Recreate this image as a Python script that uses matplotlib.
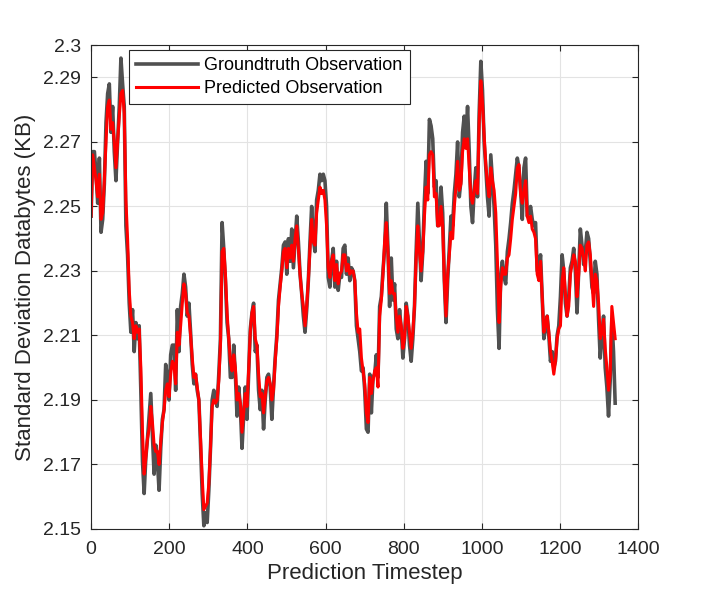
import numpy as np
import matplotlib
matplotlib.use("Agg")
import matplotlib.pyplot as plt

groundtruth = [
    2.247, 2.267, 2.267, 2.260, 2.251, 2.265, 2.242, 2.246, 2.257, 2.276,
    2.285, 2.288, 2.273, 2.281, 2.267, 2.258, 2.270, 2.281, 2.296, 2.288,
    2.281, 2.244, 2.235, 2.220, 2.211, 2.218, 2.205, 2.214, 2.209, 2.213,
    2.193, 2.171, 2.161, 2.172, 2.178, 2.185, 2.192, 2.179, 2.167, 2.176,
    2.171, 2.162, 2.175, 2.184, 2.187, 2.201, 2.197, 2.190, 2.204, 2.207,
    2.207, 2.193, 2.218, 2.205, 2.219, 2.223, 2.229, 2.225, 2.216, 2.220,
    2.211, 2.201, 2.195, 2.198, 2.193, 2.190, 2.176, 2.161, 2.151, 2.155,
    2.152, 2.162, 2.175, 2.190, 2.193, 2.190, 2.188, 2.198, 2.209,
    # 340 - 690
    2.245, 2.237, 2.227, 2.214, 2.209, 2.197, 2.197, 2.207, 2.198, 2.185,
    2.194, 2.188, 2.175, 2.185, 2.194, 2.184, 2.198, 2.212, 2.217, 2.220,
    2.205, 2.207, 2.193, 2.187, 2.193, 2.181, 2.190, 2.197, 2.198, 2.194,
    2.184, 2.194, 2.203, 2.210, 2.221, 2.226, 2.231, 2.238, 2.239, 2.229,
    2.240, 2.233, 2.243, 2.231, 2.239, 2.247, 2.239, 2.229, 2.223, 2.216,
    2.211, 2.218, 2.227, 2.239, 2.250, 2.240, 2.236, 2.252, 2.255, 2.260,
    2.258, 2.260, 2.258, 2.250, 2.228, 2.225, 2.233, 2.237, 2.225, 2.233,
    2.224, 2.229, 2.228, 2.237, 2.238, 2.229, 2.234, 2.227, 2.231, 2.230,
    2.227, 2.213, 2.209,
    # 690 - 1030
    2.205, 2.199, 2.200, 2.193, 2.181, 2.180, 2.198, 2.186, 2.197, 2.198,
    2.204, 2.197, 2.219, 2.222, 2.230, 2.237, 2.251, 2.237, 2.219, 2.234,
    2.221, 2.226, 2.212, 2.209, 2.218, 2.212, 2.203, 2.209, 2.220, 2.216,
    2.207, 2.202, 2.209, 2.219, 2.236, 2.251, 2.239, 2.227, 2.236, 2.252,
    2.264, 2.254, 2.277, 2.275, 2.271, 2.256, 2.258, 2.244, 2.246, 2.256,
    2.248, 2.227, 2.214, 2.227, 2.237, 2.247, 2.244, 2.254, 2.260, 2.270,
    2.253, 2.258, 2.273, 2.278, 2.271, 2.281, 2.267, 2.250, 2.245, 2.255,
    2.262, 2.253, 2.279, 2.295, 2.286, 2.270, 2.262, 2.253, 2.247, 2.266,
    2.258,
    # 1030 - 1341
    2.250, 2.238, 2.218, 2.206, 2.229, 2.233, 2.228, 2.226, 2.236, 2.240,
    2.245, 2.251, 2.255, 2.260, 2.265, 2.262, 2.255, 2.246, 2.262, 2.265,
    2.247, 2.248, 2.250, 2.246, 2.244, 2.245, 2.230, 2.230, 2.235, 2.222,
    2.209, 2.212, 2.216, 2.210, 2.202, 2.205, 2.200, 2.202, 2.210, 2.213,
    2.222, 2.235, 2.230, 2.220, 2.216, 2.222, 2.231, 2.233, 2.237, 2.230,
    2.217, 2.230, 2.243, 2.238, 2.232, 2.236, 2.242, 2.240, 2.233, 2.225,
    2.223, 2.233, 2.229, 2.215, 2.203, 2.210, 2.216, 2.200, 2.194, 2.185,
    2.196, 2.215, 2.205, 2.189,
]

predicted = [
    2.247, 2.266, 2.262, 2.258, 2.253, 2.260, 2.246, 2.248, 2.258, 2.270,
    2.281, 2.283, 2.274, 2.276, 2.270, 2.262, 2.270, 2.278, 2.285, 2.286,
    2.279, 2.252, 2.240, 2.224, 2.216, 2.214, 2.209, 2.213, 2.211, 2.212,
    2.200, 2.180, 2.167, 2.172, 2.178, 2.181, 2.188, 2.183, 2.176, 2.174,
    2.174, 2.170, 2.177, 2.183, 2.187, 2.193, 2.195, 2.191, 2.198, 2.202,
    2.201, 2.195, 2.211, 2.207, 2.213, 2.220, 2.226, 2.223, 2.217, 2.216,
    2.210, 2.203, 2.197, 2.198, 2.194, 2.190, 2.178, 2.166, 2.156, 2.157,
    2.158, 2.164, 2.175, 2.188, 2.190, 2.189, 2.190, 2.196, 2.207,
    # 340 - 690
    2.236, 2.237, 2.229, 2.217, 2.209, 2.202, 2.199, 2.204, 2.200, 2.190,
    2.192, 2.189, 2.180, 2.186, 2.192, 2.188, 2.199, 2.211, 2.217, 2.219,
    2.209, 2.207, 2.198, 2.191, 2.192, 2.186, 2.191, 2.196, 2.197, 2.195,
    2.190, 2.193, 2.202, 2.209, 2.219, 2.225, 2.230, 2.236, 2.237, 2.231,
    2.237, 2.234, 2.238, 2.233, 2.240, 2.244, 2.237, 2.229, 2.223, 2.219,
    2.213, 2.219, 2.227, 2.237, 2.246, 2.239, 2.238, 2.248, 2.252, 2.256,
    2.254, 2.255, 2.252, 2.244, 2.231, 2.228, 2.233, 2.235, 2.227, 2.232,
    2.226, 2.229, 2.230, 2.235, 2.235, 2.230, 2.232, 2.229, 2.230, 2.230,
    2.227, 2.217, 2.211,
    # 690 - 1030
    2.212, 2.203, 2.199, 2.195, 2.186, 2.183, 2.197, 2.192, 2.196, 2.199,
    2.200, 2.194, 2.216, 2.221, 2.229, 2.239, 2.245, 2.236, 2.223, 2.227,
    2.223, 2.223, 2.216, 2.211, 2.216, 2.213, 2.206, 2.209, 2.219, 2.216,
    2.211, 2.206, 2.211, 2.219, 2.234, 2.244, 2.236, 2.230, 2.236, 2.247,
    2.256, 2.252, 2.266, 2.267, 2.266, 2.253, 2.254, 2.244, 2.244, 2.250,
    2.244, 2.227, 2.216, 2.229, 2.235, 2.242, 2.240, 2.250, 2.256, 2.264,
    2.255, 2.257, 2.267, 2.271, 2.268, 2.271, 2.262, 2.253, 2.251, 2.255,
    2.258, 2.254, 2.276, 2.289, 2.282, 2.272, 2.263, 2.257, 2.253, 2.262,
    2.258,
    # 1030 - 1341
    2.255, 2.248, 2.233, 2.214, 2.225, 2.231, 2.229, 2.229, 2.234, 2.235,
    2.240, 2.246, 2.250, 2.254, 2.262, 2.263, 2.254, 2.251, 2.255, 2.258,
    2.247, 2.245, 2.247, 2.243, 2.242, 2.240, 2.229, 2.227, 2.233, 2.222,
    2.211, 2.213, 2.216, 2.211, 2.205, 2.202, 2.198, 2.202, 2.209, 2.212,
    2.213, 2.227, 2.231, 2.223, 2.216, 2.219, 2.229, 2.232, 2.235, 2.233,
    2.222, 2.229, 2.238, 2.237, 2.234, 2.230, 2.238, 2.239, 2.235, 2.227,
    2.219, 2.229, 2.227, 2.220, 2.209, 2.211, 2.215, 2.206, 2.200, 2.193,
    2.198, 2.219, 2.214, 2.209,
]

last_timestep = 1341
timestep = np.linspace(0, last_timestep, len(groundtruth))

x_ticks = [0, 200, 400, 600, 800, 1000, 1200, 1400]
y_ticks = [2.15, 2.17, 2.19, 2.21, 2.23, 2.25, 2.27, 2.29, 2.3]
y_tick_labels = ["2.15", "2.17", "2.19", "2.21", "2.23", "2.25", "2.27", "2.29", "2.3"]

plt.rcParams["font.family"] = ["Liberation Sans", "DejaVu Sans"]
text_color = "#262626"

fig = plt.figure(figsize=(7.06, 5.95), dpi=100)
ax = fig.add_axes([0.129, 0.111, 0.775, 0.813])

ax.plot(timestep, groundtruth, color="#505050", linewidth=2.6, label="Groundtruth Observation")
ax.plot(timestep, predicted, color="#ff0000", linewidth=2.2, label="Predicted Observation")

ax.set_xlim(0, 1400)
ax.set_ylim(2.15, 2.3)
ax.set_xticks(x_ticks)
ax.set_yticks(y_ticks)
ax.set_yticklabels(y_tick_labels)

ax.grid(True, color="#e3e3e3", linewidth=0.8)
ax.set_axisbelow(True)
ax.tick_params(direction="in", top=True, right=True, length=4, width=0.8,
               labelsize=14, colors=text_color)
ax.tick_params(axis="x", pad=9)
ax.tick_params(axis="y", pad=7)
for side in ax.spines.values():
    side.set_color(text_color)
    side.set_linewidth(0.8)

ax.set_xlabel("Prediction Timestep", fontsize=16, color=text_color, labelpad=3)
ax.set_ylabel("Standard Deviation Databytes (KB)", fontsize=16, color=text_color, labelpad=5)

leg = ax.legend(loc="upper left", bbox_to_anchor=(0.0695, 0.99), borderaxespad=0,
                fontsize=13, frameon=True, fancybox=False,
                handlelength=3.4, labelspacing=0.32,
                borderpad=0.4, handletextpad=0.35)
leg.get_frame().set_edgecolor(text_color)
leg.get_frame().set_linewidth(0.8)
leg.get_frame().set_alpha(1)
for t in leg.get_texts():
    t.set_color("#000000")

fig.savefig("out.png", dpi=100)
